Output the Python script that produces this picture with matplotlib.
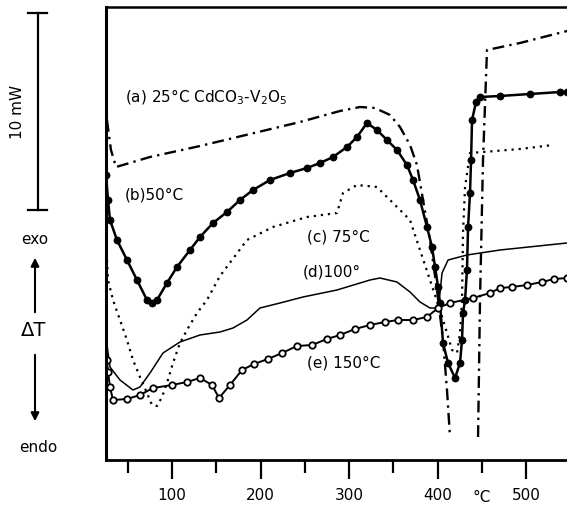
import matplotlib
matplotlib.use("Agg")
import matplotlib.pyplot as plt
import numpy as np

# DTA traces of CdCO3-V2O5 mixtures, signal in arbitrary units (10 mW = 197)
t_a1 = [26.5, 31.0, 36.7, 75.1, 131.6, 188.1, 244.6, 289.8, 312.4, 329.4,
        346.3, 357.6, 368.9, 376.8, 383.6, 391.5, 399.4, 406.2, 410.7, 414.1]
s_a1 = [340, 310, 293, 303, 314, 326, 338, 349, 353, 352,
        345, 333, 315, 295, 260, 220, 170, 120, 70, 23]
t_a2 = [445.8, 448.0, 451.4, 455.9, 493.2, 546.3]
s_a2 = [23, 160, 300, 410, 417, 429]

t_b = [25.4, 27.7, 29.9, 37.8, 49.1, 60.4, 71.7, 77.4, 83.0, 94.3, 105.6,
       120.3, 131.6, 146.3, 162.1, 176.8, 191.5, 210.7, 233.3, 252.5, 267.2,
       281.9, 297.7, 309.0, 320.3, 331.6, 342.9, 354.2, 365.5, 372.3, 380.2,
       388.1, 393.8, 397.2, 400.6, 402.8, 406.2, 411.9, 419.8, 425.4, 427.7,
       428.8, 431.1, 433.3, 434.5, 436.7, 437.9, 439.0, 443.5, 448.0, 470.6,
       504.5, 538.4, 546.3]
s_b = [285, 260, 240, 220, 200, 180, 160, 157, 160, 177, 193,
       210, 223, 237, 248, 260, 270, 280, 287, 292, 297,
       303, 313, 323, 337, 330, 320, 310, 295, 280, 260,
       233, 213, 193, 173, 157, 117, 97, 82, 97, 120,
       147, 160, 190, 233, 267, 300, 340, 358, 363, 364,
       366, 368, 368]

t_c = [26.5, 27.7, 33.3, 41.2, 49.1, 55.9, 63.8, 71.7, 77.4, 83.0, 88.7,
       94.3, 101.1, 109.0, 116.9, 128.2, 139.5, 154.2, 184.7, 214.1, 252.5,
       286.4, 293.2, 309.0, 331.6, 357.6, 368.9, 380.2, 391.5, 402.8, 410.7,
       416.4, 422.0, 425.4, 427.7, 428.8, 431.1, 436.7, 451.4, 493.2, 530.5]
s_c = [200, 180, 160, 140, 120, 100, 83, 67, 55, 54, 63,
       77, 97, 117, 130, 147, 160, 184, 220, 233, 243,
       247, 267, 275, 273, 250, 240, 210, 180, 150, 127,
       110, 107, 127, 160, 227, 273, 307, 308, 311, 315]

t_d = [26.5, 29.9, 41.2, 55.9, 63.8, 75.1, 89.8, 109.0, 131.6, 154.2,
       168.9, 184.7, 199.4, 222.0, 248.0, 286.4, 323.7, 335.0, 354.2, 368.9,
       380.2, 391.5, 399.4, 402.8, 405.1, 411.9, 433.3, 470.6, 546.3]
s_d = [115, 93, 80, 70, 73, 87, 107, 118, 125, 128,
       132, 140, 152, 157, 163, 170, 180, 182, 178, 168,
       158, 152, 152, 167, 187, 200, 205, 210, 217]

t_e = [26.5, 27.7, 29.9, 33.3, 49.1, 63.8, 78.5, 100.0, 116.9, 131.6,
       145.2, 153.1, 165.5, 179.1, 192.6, 208.5, 224.3, 241.2, 258.2, 275.1,
       289.8, 306.8, 323.7, 340.7, 355.4, 372.3, 388.1, 400.6, 414.1, 440.1,
       459.3, 470.6, 484.2, 501.1, 518.1, 531.6, 546.3]
s_e = [100, 88, 73, 60, 61, 65, 72, 75, 78, 82,
       75, 62, 75, 90, 96, 101, 107, 114, 115, 121,
       125, 131, 135, 138, 140, 140, 143, 152, 157, 162,
       167, 172, 173, 175, 178, 181, 182]

major_ticks = [100, 200, 300, 400, 500]
minor_ticks = [50, 150, 250, 350, 450]

fig = plt.figure(figsize=(5.67, 5.13), dpi=100)
ax = fig.add_axes([106 / 567, 53 / 513, 1 - 106 / 567, 453 / 513])

ax.plot(np.r_[t_a1, np.nan, t_a2], np.r_[s_a1, np.nan, s_a2], color='black',
        lw=1.7, dashes=(5, 2.2, 1, 2.2))
ax.plot(t_b, s_b, color='black', lw=1.8, marker='o', ms=4.6,
        markerfacecolor='black')
ax.plot(t_c, s_c, color='black', lw=1.6, linestyle=(0, (1, 2.2)))
ax.plot(t_d, s_d, color='black', lw=1.1)
ax.plot(t_e, s_e, color='black', lw=1.4, marker='o', ms=4.6,
        markerfacecolor='white', markeredgewidth=1.3)

ax.set_xlim(25.4, 546.3)
ax.set_ylim(0, 453)

ax.spines['right'].set_visible(False)
ax.spines['left'].set_linewidth(2.2)
ax.spines['bottom'].set_linewidth(2.0)
ax.spines['top'].set_linewidth(1.8)

ax.set_yticks([])
ax.set_xticks(major_ticks)
ax.set_xticks(minor_ticks, minor=True)
ax.set_xticklabels([str(v) for v in major_ticks])
ax.tick_params(axis='x', which='major', direction='out', length=14, width=1.6,
               labelsize=11, pad=6)
ax.tick_params(axis='x', which='minor', direction='out', length=9, width=1.6)
ax.text(450, -37, '°C', ha='center', va='center', fontsize=11,
        transform=ax.transData, clip_on=False)

# curve labels
lab = dict(fontsize=11, ha='left', va='center')
ax.text(46.9, 363, r'(a) 25°C CdCO$_3$-V$_2$O$_5$', **lab)
ax.text(46.9, 265, '(b)50°C', **lab)
ax.text(252.5, 223, '(c) 75°C', **lab)
ax.text(248.0, 188, '(d)100°', **lab)
ax.text(252.5, 97, '(e) 150°C', **lab)

# scale bar 10 mW
ax.plot([-51.4, -51.4], [250, 447], color='black', lw=1.6, clip_on=False)
ax.plot([-62.7, -41.3], [250, 250], color='black', lw=1.6, clip_on=False)
ax.plot([-62.7, -41.3], [447, 447], color='black', lw=1.6, clip_on=False)
fig.text(17 / 567, 1 - 112 / 513, '10 mW', rotation=90, ha='center',
         va='center', fontsize=11)

# exo / endo indicator
fig.text(35 / 567, 1 - 240 / 513, 'exo', ha='center', va='center', fontsize=11)
fig.text(34 / 567, 1 - 330 / 513, 'ΔT', ha='center', va='center', fontsize=14)
fig.text(38 / 567, 1 - 447 / 513, 'endo', ha='center', va='center', fontsize=11)
fig.add_artist(matplotlib.patches.FancyArrowPatch(
    (35 / 567, 1 - 315 / 513), (35 / 567, 1 - 255 / 513),
    transform=fig.transFigure, arrowstyle='-|>', mutation_scale=12,
    color='black', lw=1.5))
fig.add_artist(matplotlib.patches.FancyArrowPatch(
    (35 / 567, 1 - 352 / 513), (35 / 567, 1 - 424 / 513),
    transform=fig.transFigure, arrowstyle='-|>', mutation_scale=12,
    color='black', lw=1.5))

fig.savefig('out.png', dpi=100)
